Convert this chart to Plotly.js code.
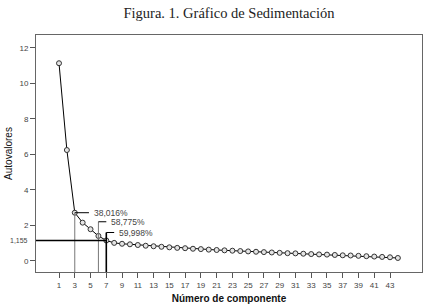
<!DOCTYPE html>
<html><head><meta charset="utf-8">
<script src="https://cdn.plot.ly/plotly-3.0.1.min.js"></script>
<style>html,body{margin:0;padding:0;background:#fff}#c{width:425px;height:308px}</style>
</head><body><div id="c"></div>
<script>
var components = [];
for (var i = 1; i <= 44; i++) components.push(i);
var eigenvalues = [11.14, 6.25, 2.72, 2.16, 1.79, 1.41, 1.155, 1.02, 0.97, 0.94,
  0.90, 0.86, 0.83, 0.80, 0.77, 0.74, 0.72, 0.69, 0.67, 0.64,
  0.62, 0.60, 0.58, 0.56, 0.54, 0.52, 0.50, 0.48, 0.46, 0.44,
  0.43, 0.41, 0.39, 0.37, 0.36, 0.34, 0.32, 0.31, 0.29, 0.27,
  0.25, 0.23, 0.21, 0.17];
var markedComponents = [3, 6, 7];
var markedLabels = ["38,016%", "58,775%", "59,998%"];
var cutoffValue = 1.155;
var cutoffLabel = "1,155";
var xTickVals = [];
for (var t = 1; t <= 43; t += 2) xTickVals.push(t);
var yTickVals = [0, 2, 4, 6, 8, 10, 12];

// label heights relative to the marked point (style)
var labelRise = [0, 0.8, 0.45];
var lineLen = [1.8, 1.0, 1.0];

var shapes = [], annotations = [];
markedComponents.forEach(function (c, k) {
  var v = eigenvalues[c - 1];
  var top = v + labelRise[k];
  var isCut = (k === markedComponents.length - 1);
  shapes.push({type: 'line', xref: 'x', yref: 'y', x0: c, x1: c, y0: -0.62, y1: top,
    line: {color: isCut ? '#000' : '#777', width: isCut ? 1.6 : 1}});
  shapes.push({type: 'line', xref: 'x', yref: 'y', x0: c, x1: c + lineLen[k], y0: top, y1: top,
    line: {color: '#000', width: 1}});
  annotations.push({xref: 'x', yref: 'y', x: c + lineLen[k] + 0.4, y: top, text: markedLabels[k],
    showarrow: false, xanchor: 'left', yanchor: 'middle',
    font: {family: 'Liberation Sans, Arial', size: 8.5, color: '#444'}});
});
var cutComp = markedComponents[markedComponents.length - 1];
shapes.push({type: 'line', xref: 'paper', yref: 'y', x0: 0, x1: (cutComp + 1.92) / 48.98, y0: cutoffValue, y1: cutoffValue,
  line: {color: '#000', width: 1.3}});
annotations.push({xref: 'paper', yref: 'y', x: -0.015, y: cutoffValue, text: cutoffLabel, showarrow: false,
  xanchor: 'right', yanchor: 'middle', font: {family: 'Liberation Sans, Arial', size: 7, color: '#444'}});

var trace = {
  x: components, y: eigenvalues, type: 'scatter', mode: 'lines+markers',
  line: {color: '#000', width: 1},
  marker: {symbol: 'circle', size: 5, color: '#e4e4e4', line: {color: '#333', width: 1}},
  hoverinfo: 'none'
};

var layout = {
  width: 425, height: 308,
  margin: {l: 36, r: 3, t: 35, b: 36},
  paper_bgcolor: '#fff', plot_bgcolor: '#fff',
  showlegend: false,
  title: {text: 'Figura. 1. Gráfico de Sedimentación', x: 0.5, xref: 'paper', y: 0.975, yanchor: 'top',
    font: {family: 'Liberation Serif, DejaVu Serif, serif', size: 14.5, color: '#222'}},
  xaxis: {range: [-1.92, 47.06], tickvals: xTickVals, ticks: 'outside', ticklen: 5, tickcolor: '#555',
    showgrid: false, zeroline: false, showline: true, mirror: true, linecolor: '#666', linewidth: 1,
    tickfont: {family: 'Liberation Sans, Arial', size: 8, color: '#444'},
    title: {text: '<b>Número de componente</b>', standoff: 6,
      font: {family: 'Liberation Sans, Arial', size: 10, color: '#111'}}},
  yaxis: {range: [-0.62, 12.73], tickvals: yTickVals, ticks: 'outside', ticklen: 5, tickcolor: '#555',
    showgrid: false, zeroline: false, showline: true, mirror: true, linecolor: '#666', linewidth: 1,
    tickfont: {family: 'Liberation Sans, Arial', size: 8, color: '#444'},
    title: {text: 'Autovalores', standoff: 4,
      font: {family: 'Liberation Sans, Arial', size: 10, color: '#111'}}},
  shapes: shapes,
  annotations: annotations
};
Plotly.newPlot('c', [trace], layout, {staticPlot: true, displayModeBar: false});
</script></body></html>
